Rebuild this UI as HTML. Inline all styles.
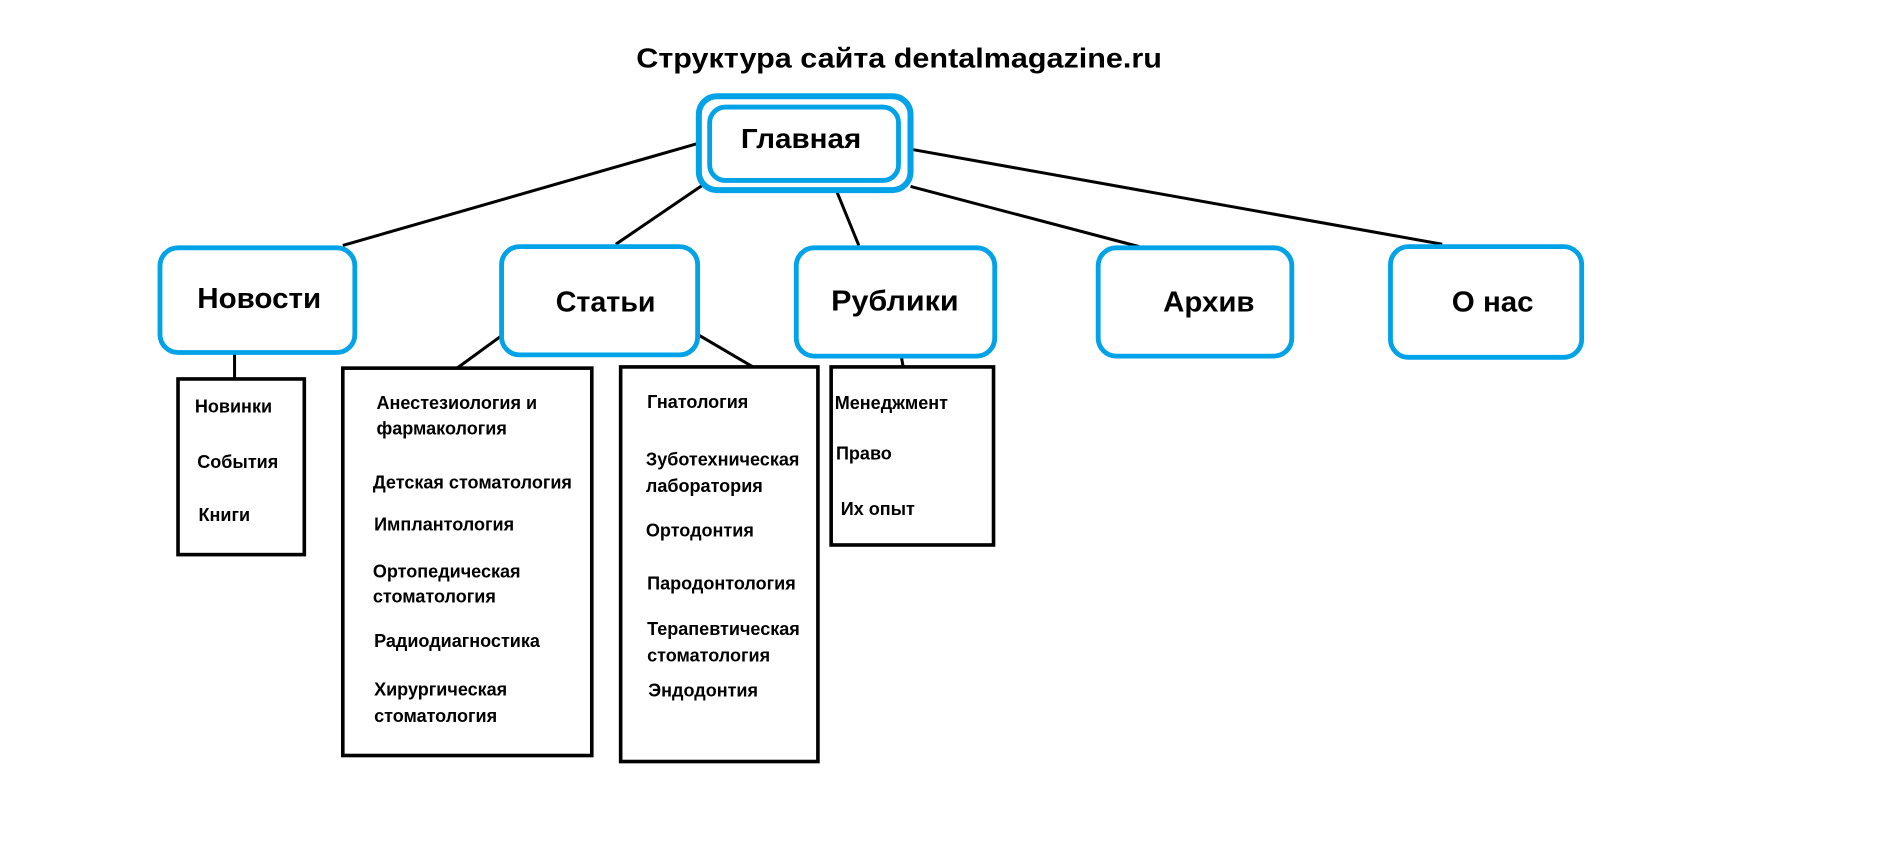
<!DOCTYPE html>
<html><head><meta charset="utf-8"><style>
html,body{margin:0;padding:0;background:#fff;width:1880px;height:865px;overflow:hidden}
svg{display:block}
text{font-family:"Liberation Sans","DejaVu Sans",sans-serif;font-weight:bold;fill:#000}
.s{font-size:15px}
</style></head><body>
<svg width="1880" height="865" viewBox="0 0 1563 719" preserveAspectRatio="none" xmlns="http://www.w3.org/2000/svg">
<text x="529" y="56" font-size="23" textLength="437" lengthAdjust="spacingAndGlyphs">Структура сайта dentalmagazine.ru</text>
<g stroke="#000" stroke-width="2.5" fill="none">
<line x1="581" y1="119" x2="285" y2="204"/>
<line x1="584" y1="154" x2="512" y2="203"/>
<line x1="696" y1="160" x2="714" y2="204"/>
<line x1="757" y1="155" x2="947" y2="205"/>
<line x1="757" y1="124" x2="1199" y2="203"/>
<line x1="195" y1="293" x2="195" y2="315"/>
<line x1="417" y1="279" x2="380" y2="306"/>
<line x1="580" y1="278" x2="626" y2="305"/>
<line x1="749" y1="294" x2="751" y2="306"/>
<rect x="148" y="315" width="105" height="146" stroke-width="3"/>
<rect x="285" y="306" width="207" height="322" stroke-width="3"/>
<rect x="516" y="305" width="164" height="328" stroke-width="3"/>
<rect x="691" y="305" width="135" height="148" stroke-width="3"/>
</g>
<g stroke="#00a2e8" fill="#fff">
<rect x="581" y="80" width="176" height="78" rx="15" stroke-width="5"/>
<rect x="590" y="89" width="157" height="61" rx="13" stroke-width="4"/>
<rect x="133" y="206" width="162" height="87" rx="15" stroke-width="4"/>
<rect x="417" y="205" width="163" height="90" rx="15" stroke-width="4"/>
<rect x="662" y="206" width="165" height="90" rx="15" stroke-width="4"/>
<rect x="913" y="206" width="161" height="90" rx="15" stroke-width="4"/>
<rect x="1156" y="205" width="159" height="92" rx="15" stroke-width="4"/>
</g>
<text x="616" y="123" font-size="23" textLength="100" lengthAdjust="spacingAndGlyphs">Главная</text>
<text x="164" y="256" font-size="24" textLength="103" lengthAdjust="spacingAndGlyphs">Новости</text>
<text x="462" y="259" font-size="24" textLength="83" lengthAdjust="spacingAndGlyphs">Статьи</text>
<text x="691" y="258" font-size="24" textLength="106" lengthAdjust="spacingAndGlyphs">Рублики</text>
<text x="967" y="259" font-size="24" textLength="76" lengthAdjust="spacingAndGlyphs">Архив</text>
<text x="1207" y="259" font-size="24" textLength="68" lengthAdjust="spacingAndGlyphs">О нас</text>
<g class="s">
<text x="162" y="343">Новинки</text>
<text x="164" y="389">События</text>
<text x="165" y="433">Книги</text>
<text x="313" y="340">Анестезиология и</text>
<text x="313" y="361">фармакология</text>
<text x="310" y="406">Детская стоматология</text>
<text x="311" y="441">Имплантология</text>
<text x="310" y="480">Ортопедическая</text>
<text x="310" y="501">стоматология</text>
<text x="311" y="538">Радиодиагностика</text>
<text x="311" y="578">Хирургическая</text>
<text x="311" y="600">стоматология</text>
<text x="538" y="339">Гнатология</text>
<text x="537" y="387">Зуботехническая</text>
<text x="537" y="409">лаборатория</text>
<text x="537" y="446">Ортодонтия</text>
<text x="538" y="490">Пародонтология</text>
<text x="538" y="528">Терапевтическая</text>
<text x="538" y="550">стоматология</text>
<text x="539" y="579">Эндодонтия</text>
<text x="694" y="340">Менеджмент</text>
<text x="695" y="382">Право</text>
<text x="699" y="428">Их опыт</text>
</g>
</svg>
</body></html>
